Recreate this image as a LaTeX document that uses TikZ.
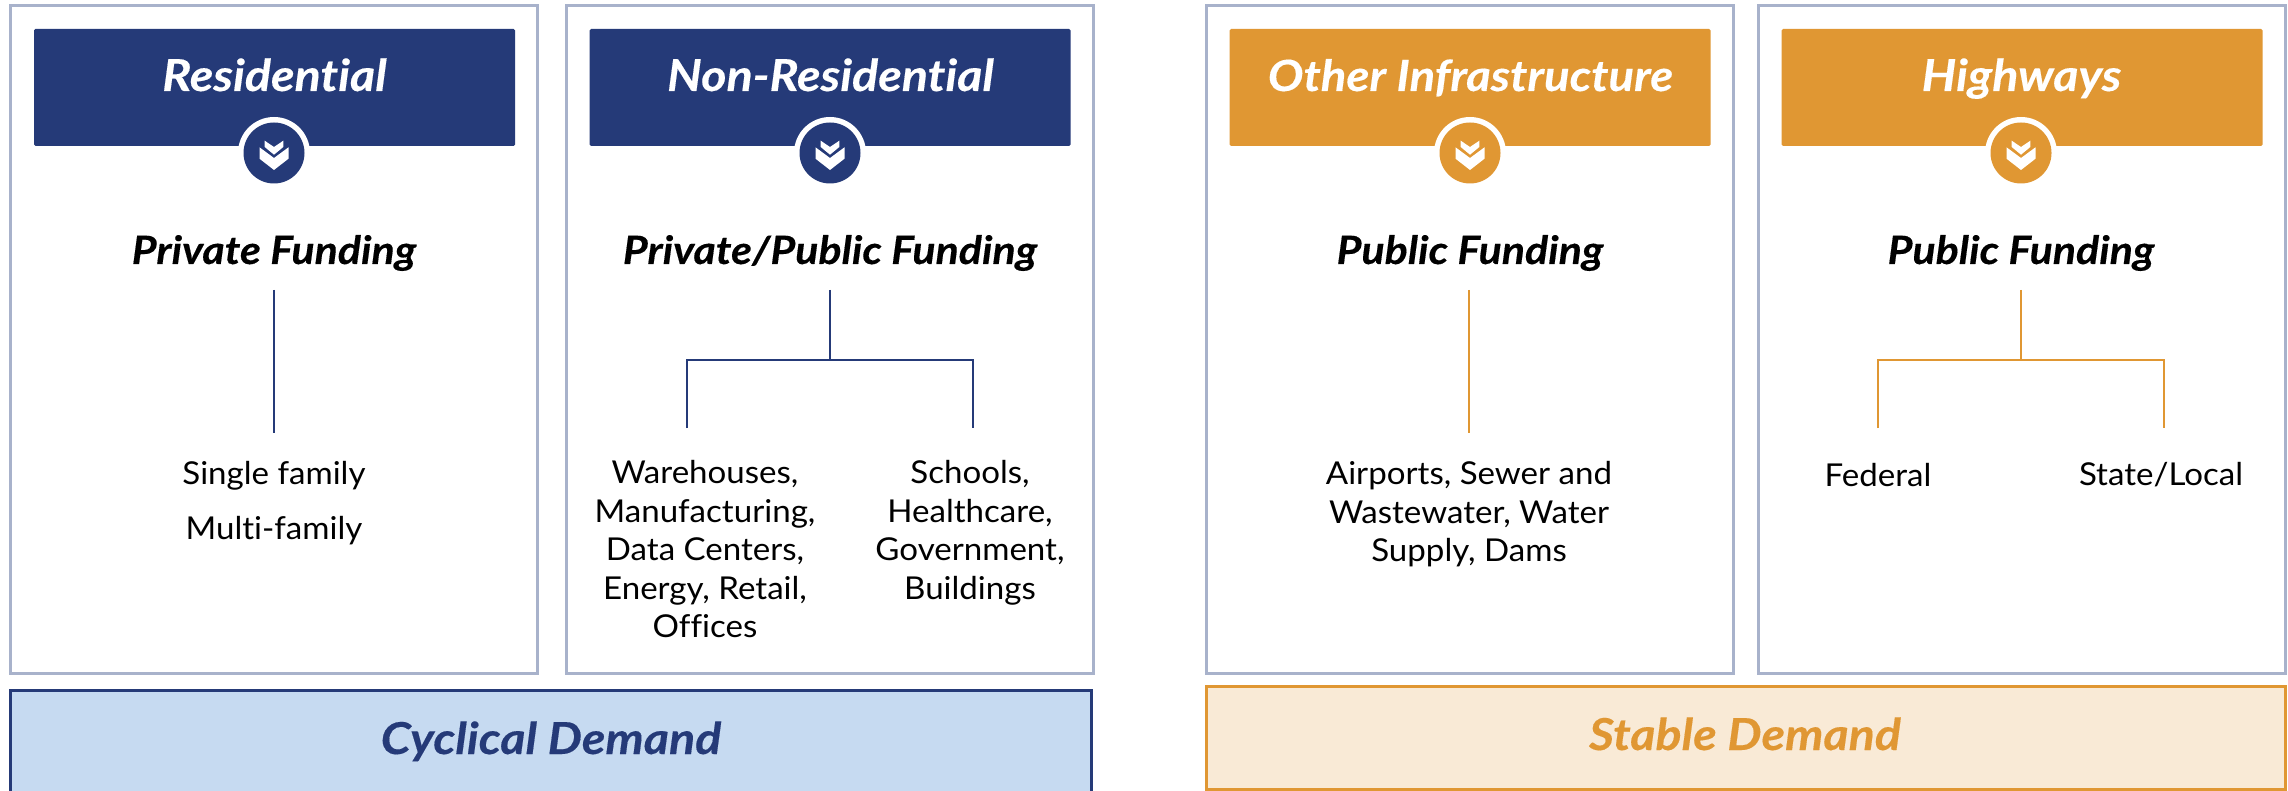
\documentclass[tikz,border=0pt]{standalone}
\usepackage{fontspec}
\setmainfont[Ligatures={NoCommon,NoRequired,NoContextual},FakeStretch=1.05]{Lato}
\newfontfamily\headfont[Ligatures={NoCommon,NoRequired,NoContextual},FakeStretch=1.1,BoldItalicFeatures={FakeBold=0.3}]{Lato}
\definecolor{navy}{HTML}{253A78}
\definecolor{amber}{HTML}{E09733}
\definecolor{frame}{HTML}{A8B2CB}
\definecolor{paleblue}{HTML}{C6DAF1}
\definecolor{cream}{HTML}{F9EAD6}
\tikzset{
  panel/.style={draw=frame,line width=3pt,fill=white,rectangle,inner sep=0pt,outer sep=0pt,anchor=north west,minimum width=527pt,minimum height=668pt},
  header/.style={fill=#1,rectangle,rounded corners=1.5pt,inner sep=0pt,outer sep=0pt,minimum width=481pt,minimum height=117pt},
  headtext/.style={font=\headfont\fontsize{44}{48}\selectfont\bfseries\itshape,inner sep=0pt,anchor=base},
  funding/.style={font=\headfont\fontsize{39}{44}\selectfont\bfseries\itshape,text=black,inner sep=0pt,anchor=base},
  body/.style={font=\fontsize{31.5}{38.6}\selectfont,text=black,align=center,inner sep=0pt},
  band/.style={line width=3pt,rectangle,inner sep=0pt,outer sep=0pt,anchor=north west},
  conn/.style={line width=2.8pt}
}
\newcommand{\badge}[3]{%
  \fill[white] (#1,#2) circle[radius=36];
  \fill[#3] (#1,#2) circle[radius=30.5];
  \begin{scope}[shift={(#1,#2)}]
    \fill[white] (-14.5,-5.7) -- (0,5) -- (14.5,-5.7) -- (14.5,5.7) -- (0,17) -- (-14.5,5.7) -- cycle;
    \fill[white] (-9.3,-12.3) -- (0,-6) -- (9.3,-12.3) -- (9.3,-6) -- (0,1.7) -- (-9.3,-6) -- cycle;
  \end{scope}}
\begin{document}
\begin{tikzpicture}[x=1pt,y=-1pt]
\useasboundingbox (0,0) rectangle (2288,791);
\clip (0,0) rectangle (2288,791);
% panels
\node[panel] (p1) at (10.5,5.5) {};
\node[panel] (p2) at (566,5.5) {};
\node[panel] (p3) at (1206.5,5.5) {};
\node[panel] (p4) at (1758,5.5) {};
% headers
\node[header=navy] (h1) at (274.5,87.5) {};
\node[header=navy] (h2) at (830,87.5) {};
\node[header=amber] (h3) at (1470,87.5) {};
\node[header=amber] (h4) at (2022,87.5) {};
\node[headtext,text=white] (t1) at (274.5,91) {Residential};
\node[headtext,text=white] (t2) at (830.5,91) {Non-Residential};
\node[headtext,text=white,font=\headfont\fontsize{43}{48}\selectfont\bfseries\itshape] (t3) at (1470.5,91) {Other Infrastructure};
\node[headtext,text=white] (t4) at (2021.5,91) {Highways};
\badge{274}{153}{navy}
\badge{830}{153}{navy}
\badge{1470}{153}{amber}
\badge{2021}{153}{amber}
% funding
\node[funding] (f1) at (274,264) {Private Funding};
\node[funding] (f2) at (830,264) {Private/Public Funding};
\node[funding] (f3) at (1470,264) {Public Funding};
\node[funding] (f4) at (2021,264) {Public Funding};
% body
\node[body] (b1) at (274,476) {Single family};
\node[body] (b2) at (274,531) {Multi-family};
\node[body,anchor=north] (b3) at (705,460) {Warehouses,\\Manufacturing,\\Data Centers,\\Energy, Retail,\\Offices};
\node[body,anchor=north] (b4) at (970,460) {Schools,\\Healthcare,\\Government,\\Buildings};
\node[body,anchor=north] (b5) at (1469,461) {Airports, Sewer and\\Wastewater, Water\\Supply, Dams};
\node[body] (b6) at (1878,475) {Federal};
\node[body] (b7) at (2161,475) {State/Local};
% connector ends
\coordinate (a1) at (274,290); \coordinate (a2) at (274,433);
\coordinate (c1) at (830,290); \coordinate (c2) at (830,360);
\coordinate (c3) at (687,428); \coordinate (c4) at (973,428);
\coordinate (d1) at (1469,290); \coordinate (d2) at (1469,433);
\coordinate (e1) at (2021,290); \coordinate (e2) at (2021,360);
\coordinate (e3) at (1878,428); \coordinate (e4) at (2164,428);
\draw[conn,navy] (a1) -- (a2);
\draw[conn,navy] (c1) -- (c2);
\draw[conn,navy] (c3) |- (c2) -| (c4);
\draw[conn,amber] (d1) -- (d2);
\draw[conn,amber] (e1) -- (e2);
\draw[conn,amber] (e3) |- (e2) -| (e4);
% bands
\node[band,draw=navy,fill=paleblue,minimum width=1081pt,minimum height=115pt] (cy) at (10.5,690.5) {};
\node[headtext,text=navy] (cyt) at (551,754) {Cyclical Demand};
\node[band,draw=amber,fill=cream,minimum width=1079pt,minimum height=103pt] (st) at (1206,686) {};
\node[headtext,text=amber] (stt) at (1745,750) {Stable Demand};
\end{tikzpicture}
\end{document}
